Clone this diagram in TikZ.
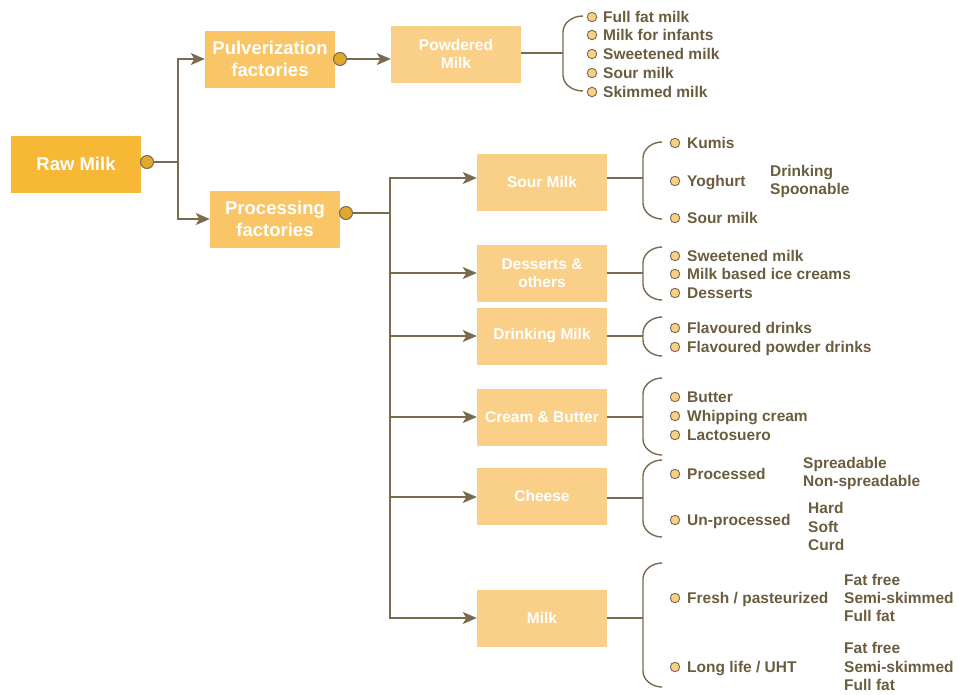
\documentclass[tikz,border=0pt]{standalone}
\usepackage{fontspec}
\setmainfont{Liberation Sans}
\usetikzlibrary{arrows.meta}
\definecolor{linec}{HTML}{7A6A4E}
\definecolor{txtc}{HTML}{6B5C3E}
\definecolor{rawc}{HTML}{F7B836}
\definecolor{facc}{HTML}{F9C566}
\definecolor{prodc}{HTML}{FAD089}
\definecolor{dotc}{HTML}{E0A92E}
\definecolor{bulc}{HTML}{F9CF86}
\newcommand\myitem[5]{%
  \node[bul] (#1b) at (#2,#4) {};
  \node[itemtxt] (#1) at (#3,#4) {#5};}
\newcommand\mybrace[4]{%
  \draw[conn] (#4,#2) .. controls (#1+9,#2) and (#1,#2+7) .. (#1,#2+16) -- (#1,#3-16) .. controls (#1,#3-7) and (#1+9,#3) .. (#4,#3);}
\begin{document}
\begin{tikzpicture}[x=1pt,y=-1pt,
 box/.style={minimum width=130pt,minimum height=57pt,inner sep=0pt,align=center,text=white,fill=prodc,font=\bfseries\fontsize{15.5}{18}\selectfont},
 bigbox/.style={box,fill=facc,font=\bfseries\fontsize{18.5}{22}\selectfont},
 conn/.style={draw=linec,line width=1.4pt},
 arr/.style={conn,-{Stealth[length=14pt,width=12pt,inset=3.5pt]}},
 bigdot/.style={circle,draw=linec,line width=1pt,fill=dotc,minimum size=13pt,inner sep=0pt},
 bul/.style={circle,draw=linec,line width=0.9pt,fill=bulc,minimum size=9.5pt,inner sep=0pt},
 itemtxt/.style={anchor=west,inner sep=0pt,text=txtc,font=\bfseries\fontsize{15.5}{18}\selectfont,text height=11pt,text depth=0pt},
]
\useasboundingbox (0,0) rectangle (958,694);

% main boxes
\node[bigbox,fill=rawc] (raw) at (76,164) {Raw Milk};
\node[bigbox] (pulv) at (270,59) {Pulverization\\factories};
\node[bigbox] (proc) at (275,219) {Processing\\factories};
\node[box] (powd) at (456,54) {Powdered\\Milk};

\node[box] (sour) at (542,182) {Sour Milk};
\node[box] (dess) at (542,273) {Desserts \&\\others};
\node[box] (drink) at (542,336) {Drinking Milk};
\node[box] (cream) at (542,417) {Cream \& Butter};
\node[box] (cheese) at (542,496) {Cheese};
\node[box] (milk) at (542,618) {Milk};

% connectors
\coordinate (rj) at (178,162);
\node[bigdot] (rawdot) at (147,162) {};
\draw[conn] (rawdot) -- (rj);
\draw[arr] (rj) |- (pulv.west);
\draw[arr] (rj) |- (proc.west);

\node[bigdot] (pulvdot) at (340,59) {};
\draw[arr] (pulvdot) -- (powd.west |- pulvdot);

\coordinate (pj) at (390,213);
\node[bigdot] (procdot) at (346,213) {};
\draw[conn] (procdot) -- (pj);
\coordinate (sa) at (390,178);
\draw[arr] (pj) |- (sour.west |- sa);
\draw[arr] (pj) |- (dess.west);
\draw[arr] (pj) |- (drink.west);
\draw[arr] (pj) |- (cream.west);
\coordinate (ca) at (390,497);
\draw[arr] (pj) |- (cheese.west |- ca);
\draw[arr] (pj) |- (milk.west);

% braces
\coordinate (bp) at (563,53);
\draw[conn] (powd.east |- bp) -- (bp);
\mybrace{563}{16}{91}{583}
\coordinate (bs) at (643,178);
\draw[conn] (sour.east |- bs) -- (bs);
\mybrace{643}{142}{219}{662}
\coordinate (bd) at (643,273);
\draw[conn] (dess.east) -- (bd);
\mybrace{643}{247}{300}{662}
\coordinate (bdr) at (643,336);
\draw[conn] (drink.east) -- (bdr);
\mybrace{643}{317}{356}{662}
\coordinate (bc) at (643,417);
\draw[conn] (cream.east) -- (bc);
\mybrace{643}{378}{455}{662}
\coordinate (bch) at (643,498);
\draw[conn] (cheese.east |- bch) -- (bch);
\mybrace{643}{460}{537}{662}
\coordinate (bm) at (643,618);
\draw[conn] (milk.east) -- (bm);
\mybrace{643}{563}{687}{662}

% items: powdered milk
\myitem{p1}{592}{603}{17}{Full fat milk}
\myitem{p2}{592}{603}{35}{Milk for infants}
\myitem{p3}{592}{603}{54}{Sweetened milk}
\myitem{p4}{592}{603}{73}{Sour milk}
\myitem{p5}{592}{603}{92}{Skimmed milk}
% sour milk
\myitem{s1}{675}{687}{143}{Kumis}
\myitem{s2}{675}{687}{181}{Yoghurt}
\myitem{s3}{675}{687}{218}{Sour milk}
\node[itemtxt] (s2a) at (770,171) {Drinking};
\node[itemtxt] (s2b) at (770,189) {Spoonable};
% desserts
\myitem{d1}{675}{687}{256}{Sweetened milk}
\myitem{d2}{675}{687}{274}{Milk based ice creams}
\myitem{d3}{675}{687}{293}{Desserts}
% drinking
\myitem{k1}{675}{687}{328}{Flavoured drinks}
\myitem{k2}{675}{687}{347}{Flavoured powder drinks}
% cream
\myitem{c1}{675}{687}{397}{Butter}
\myitem{c2}{675}{687}{416}{Whipping cream}
\myitem{c3}{675}{687}{435}{Lactosuero}
% cheese
\myitem{h1}{675}{687}{474}{Processed}
\myitem{h2}{675}{687}{520}{Un-processed}
\node[itemtxt] (h1a) at (803,463) {Spreadable};
\node[itemtxt] (h1b) at (803,481) {Non-spreadable};
\node[itemtxt] (h2a) at (808,508) {Hard};
\node[itemtxt] (h2b) at (808,527) {Soft};
\node[itemtxt] (h2c) at (808,545) {Curd};
% milk
\myitem{m1}{675}{687}{598}{Fresh / pasteurized}
\myitem{m2}{675}{687}{667}{Long life / UHT}
\node[itemtxt] (m1a) at (844,580) {Fat free};
\node[itemtxt] (m1b) at (844,598) {Semi-skimmed};
\node[itemtxt] (m1c) at (844,616) {Full fat};
\node[itemtxt] (m2a) at (844,648) {Fat free};
\node[itemtxt] (m2b) at (844,667) {Semi-skimmed};
\node[itemtxt] (m2c) at (844,685) {Full fat};
\end{tikzpicture}
\end{document}
